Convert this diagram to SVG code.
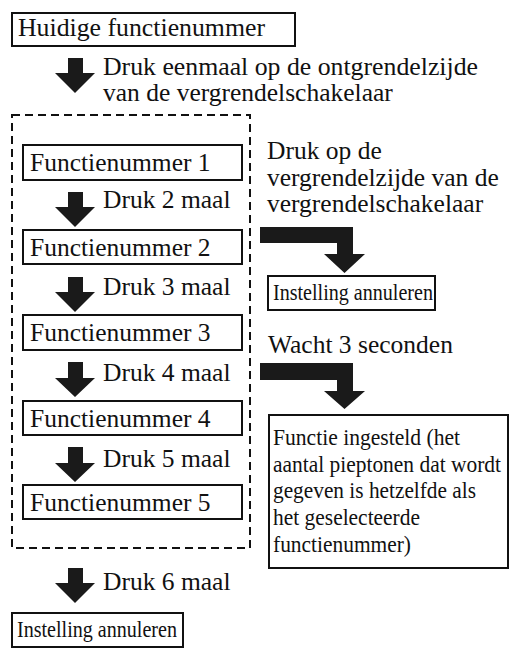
<svg xmlns="http://www.w3.org/2000/svg" width="517" height="665" viewBox="0 0 517 665">
<style>
.t{font-family:"Liberation Serif","Times New Roman",serif;font-size:25.5px;fill:#111}
.c{font-family:"Liberation Serif","Times New Roman",serif;font-size:24px;fill:#111}
.b{fill:#fff;stroke:#111;stroke-width:2}
.a{fill:#1a1a1a}
</style>
<rect width="517" height="665" fill="#fff"/>
<rect x="12" y="115" width="238" height="433" fill="none" stroke="#111" stroke-width="2" stroke-dasharray="8 5"/>
<g id="n-current"><rect class="b" x="12" y="13" width="283" height="33"/><text class="t" x="18" y="36" textLength="247" lengthAdjust="spacingAndGlyphs">Huidige functienummer</text></g>
<g id="n-f1"><rect class="b" x="23" y="145" width="219" height="35"/><text class="t" x="30" y="171">Functienummer 1</text></g>
<g id="n-f2"><rect class="b" x="23" y="230" width="219" height="34"/><text class="t" x="30" y="256">Functienummer 2</text></g>
<g id="n-f3"><rect class="b" x="23" y="315" width="219" height="35"/><text class="t" x="30" y="341">Functienummer 3</text></g>
<g id="n-f4"><rect class="b" x="23" y="401" width="219" height="34"/><text class="t" x="30" y="427">Functienummer 4</text></g>
<g id="n-f5"><rect class="b" x="23" y="485" width="219" height="34"/><text class="t" x="30" y="511">Functienummer 5</text></g>
<g id="n-cancel1"><rect class="b" x="268" y="276" width="167" height="34"/><text class="c" x="273" y="300" textLength="160" lengthAdjust="spacingAndGlyphs">Instelling annuleren</text></g>
<g id="n-set"><rect class="b" x="269" y="415" width="239" height="153"/>
<text class="c" x="273" y="445" textLength="187" lengthAdjust="spacingAndGlyphs">Functie ingesteld (het</text>
<text class="c" x="273" y="472" textLength="228" lengthAdjust="spacingAndGlyphs">aantal pieptonen dat wordt</text>
<text class="c" x="273" y="498" textLength="203" lengthAdjust="spacingAndGlyphs">gegeven is hetzelfde als</text>
<text class="c" x="273" y="525" textLength="147" lengthAdjust="spacingAndGlyphs">het geselecteerde</text>
<text class="c" x="273" y="552" textLength="138" lengthAdjust="spacingAndGlyphs">functienummer)</text></g>
<g id="n-cancel2"><rect class="b" x="12" y="613" width="171" height="34"/><text class="c" x="17" y="637" textLength="160" lengthAdjust="spacingAndGlyphs">Instelling annuleren</text></g>
<g id="connectors">
<path class="a" d="M68 58H83V73H95L75 93L55 73H68Z"/>
<path class="a" d="M68 192H83V207H95L75 227L55 207H68Z"/>
<path class="a" d="M68 277H83V292H95L75 312L55 292H68Z"/>
<path class="a" d="M68 362H83V378H95L75 397L55 378H68Z"/>
<path class="a" d="M68 447H83V463H95L75 482L55 463H68Z"/>
<path class="a" d="M68 568H83V583H95L75 603L55 583H68Z"/>
<path class="a" d="M260 227H353V254H365L344.5 273L324 254H337V243H260Z"/>
<path class="a" d="M260 363H353V391H365L344.5 409L324 391H337V380H260Z"/>
</g>
<g id="labels">
<text class="t" x="103" y="75" textLength="375" lengthAdjust="spacingAndGlyphs">Druk eenmaal op de ontgrendelzijde</text>
<text class="t" x="103" y="101">van de vergrendelschakelaar</text>
<text class="t" x="103" y="208">Druk 2 maal</text>
<text class="t" x="103" y="295">Druk 3 maal</text>
<text class="t" x="103" y="381">Druk 4 maal</text>
<text class="t" x="103" y="467">Druk 5 maal</text>
<text class="t" x="103" y="590">Druk 6 maal</text>
<text class="t" x="267" y="159">Druk op de</text>
<text class="t" x="267" y="186">vergrendelzijde van de</text>
<text class="t" x="267" y="212">vergrendelschakelaar</text>
<text class="t" x="268" y="353">Wacht 3 seconden</text>
</g>
</svg>
